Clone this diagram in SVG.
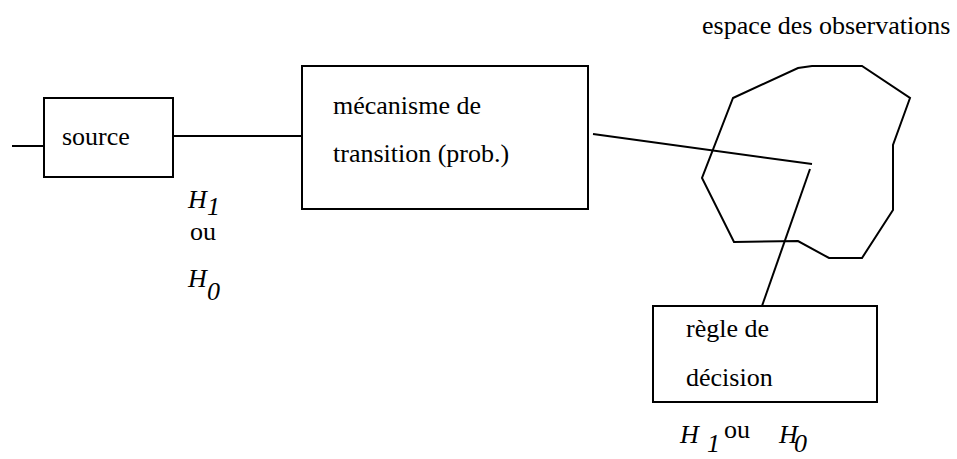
<svg xmlns="http://www.w3.org/2000/svg" width="957" height="459" viewBox="0 0 957 459">
<style>
.box{fill:none;stroke:#000;stroke-width:2}
.ln{fill:none;stroke:#000;stroke-width:2}
text{font-family:"Liberation Serif","Times New Roman",serif;font-size:26px;fill:#000}
.it{font-style:italic}
</style>
<rect width="957" height="459" fill="#fff"/>
<g id="connectors">
<line class="ln" x1="12" y1="146" x2="44" y2="146"/>
<line class="ln" x1="173" y1="136" x2="302" y2="136"/>
<line class="ln" x1="593" y1="134" x2="812" y2="164"/>
<line class="ln" x1="810" y1="169" x2="762" y2="306"/>
</g>
<g id="source">
<rect class="box" x="44" y="98" width="129" height="79"/>
<text x="62" y="145">source</text>
</g>
<g id="transition">
<rect class="box" x="302" y="66" width="286" height="143"/>
<text x="333" y="114">mécanisme de</text>
<text x="333" y="162">transition (prob.)</text>
</g>
<g id="espace">
<polygon class="ln" points="733,98 798,68 812,66 862,66 910,98 893,145 893,210 862,258 829,258 798,241 734,242 702,178"/>
<text x="702" y="34">espace des observations</text>
</g>
<g id="decision">
<rect class="box" x="653" y="306" width="224" height="96"/>
<text x="686" y="337">règle de</text>
<text x="686" y="386">décision</text>
</g>
<g id="hyp-left">
<text class="it" x="188" y="208">H</text>
<text class="it" x="207" y="215">1</text>
<text x="190" y="240">ou</text>
<text class="it" x="188" y="287">H</text>
<text class="it" x="207" y="300">0</text>
</g>
<g id="hyp-bottom">
<text class="it" x="680" y="443">H</text>
<text class="it" x="707" y="452">1</text>
<text x="724" y="438">ou</text>
<text class="it" x="779" y="443">H</text>
<text class="it" x="794" y="452">0</text>
</g>
</svg>
